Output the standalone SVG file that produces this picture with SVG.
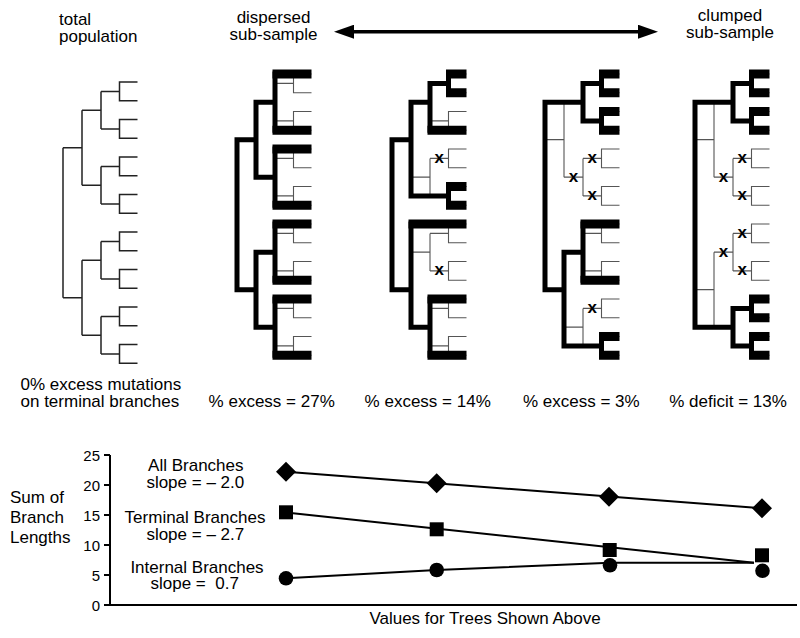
<svg xmlns="http://www.w3.org/2000/svg" xmlns:xlink="http://www.w3.org/1999/xlink" width="800" height="638" viewBox="0 0 800 638">
<style>
.t{font-family:"Liberation Sans",Arial,Helvetica,sans-serif;font-size:17px;fill:#000}
.tk{font-family:"Liberation Sans",Arial,Helvetica,sans-serif;font-size:15px;fill:#000;text-anchor:end}
.c{text-anchor:middle}
.thin{fill:none;stroke:#555;stroke-width:1.1}
.dark{fill:none;stroke:#222;stroke-width:1.5}
.thick{fill:none;stroke:#000;stroke-width:5;stroke-linecap:square}
.bar{fill:#000}
.x{font-family:"Liberation Sans",Arial,sans-serif;font-size:17px;font-weight:bold;text-anchor:middle;fill:#000}
.ax{fill:none;stroke:#000;stroke-width:2}
.ln{fill:none;stroke:#000;stroke-width:2}
.mk{fill:#000}
</style>
<defs>
<path id="full" d="M74.5 74H56.5V92.75H74.5M38 83.375H56.5M74.5 111.5H56.5V130.25H74.5M38 120.875H56.5M74.5 149H56.5V167.75H74.5M38 158.375H56.5M74.5 186.5H56.5V205.25H74.5M38 195.875H56.5M74.5 224H56.5V242.75H74.5M38 233.375H56.5M74.5 261.5H56.5V280.25H74.5M38 270.875H56.5M74.5 299H56.5V317.75H74.5M38 308.375H56.5M74.5 336.5H56.5V355.25H74.5M38 345.875H56.5M38 83.375V120.875M19 102.125H38M38 158.375V195.875M19 177.125H38M38 233.375V270.875M19 252.125H38M38 308.375V345.875M19 327.125H38M19 102.125V177.125M0 139.625H19M19 252.125V327.125M0 289.625H19M0 139.625V289.625"/>
<marker id="ah" markerUnits="userSpaceOnUse" markerWidth="20" markerHeight="14" viewBox="0 0 20 14" refX="10" refY="7" orient="auto-start-reverse"><path d="M0,0L20,7L0,14Z" fill="#000"/></marker>
<path id="dia" d="M0,-10L10,0L0,10L-10,0Z"/>
<rect id="sq" x="-7" y="-7" width="14" height="14"/>
<circle id="dot" r="7.3"/>
</defs>

<g id="label-total"><text class="t" x="59" y="25">total</text><text class="t" x="59" y="42">population</text></g>
<g id="label-dispersed"><text class="t c" x="273.5" y="22.5">dispersed</text><text class="t c" x="273.5" y="39.5">sub-sample</text></g>
<g id="label-clumped"><text class="t c" x="730" y="21">clumped</text><text class="t c" x="730" y="38">sub-sample</text></g>

<g id="connectors">
<line x1="344" y1="31.7" x2="648" y2="31.7" stroke="#000" stroke-width="3.5" marker-start="url(#ah)" marker-end="url(#ah)"/>
</g>

<g id="tree-total"><use xlink:href="#full" href="#full" class="dark" x="63" y="8"/></g>

<g id="tree-dispersed" transform="translate(237,0)">
<use xlink:href="#full" href="#full" class="thin"/>
<path class="thick" d="M0 139.625V289.625M0 139.625H19M0 289.625H19M19 102.125V177.125M19 252.125V327.125M19 102.125H38M19 177.125H38M19 252.125H38M19 327.125H38M38 74V130.25M38 149V205.25M38 224V280.25M38 299V355.25"/>
<g class="bar"><rect x="35.5" y="69.5" width="39" height="9"/><rect x="35.5" y="125.75" width="39" height="9"/><rect x="35.5" y="144.5" width="39" height="9"/><rect x="35.5" y="200.75" width="39" height="9"/><rect x="35.5" y="219.5" width="39" height="9"/><rect x="35.5" y="275.75" width="39" height="9"/><rect x="35.5" y="294.5" width="39" height="9"/><rect x="35.5" y="350.75" width="39" height="9"/></g>
</g>

<g id="tree-14" transform="translate(392,0)">
<use xlink:href="#full" href="#full" class="thin"/>
<path class="thick" d="M0 139.625V289.625M0 139.625H19M0 289.625H19M19 102.125V195.875M19 102.125H38M38 83.375V130.25M38 83.375H56.5M56.5 74V92.75M19 195.875H56.5M56.5 186.5V205.25M19 224V327.125M19 327.125H38M38 299V355.25"/>
<g class="bar"><rect x="54" y="69.5" width="20.5" height="9"/><rect x="54" y="88.25" width="20.5" height="9"/><rect x="35.5" y="125.75" width="39" height="9"/><rect x="54" y="182" width="20.5" height="9"/><rect x="54" y="200.75" width="20.5" height="9"/><rect x="16.5" y="219.5" width="58" height="9"/><rect x="35.5" y="294.5" width="39" height="9"/><rect x="35.5" y="350.75" width="39" height="9"/></g>
<text class="x" x="47.25" y="162.9">x</text><text class="x" x="47.25" y="275.4">x</text>
</g>

<g id="tree-3" transform="translate(545,0)">
<use xlink:href="#full" href="#full" class="thin"/>
<path class="thick" d="M0 102.125V289.625M0 102.125H38M38 83.375V120.875M38 83.375H56.5M38 120.875H56.5M56.5 74V92.75M56.5 111.5V130.25M0 289.625H19M19 252.125V345.875M19 252.125H38M38 224V280.25M19 345.875H56.5M56.5 336.5V355.25"/>
<g class="bar"><rect x="54" y="69.5" width="20.5" height="9"/><rect x="54" y="88.25" width="20.5" height="9"/><rect x="54" y="107" width="20.5" height="9"/><rect x="54" y="125.75" width="20.5" height="9"/><rect x="35.5" y="219.5" width="39" height="9"/><rect x="35.5" y="275.75" width="39" height="9"/><rect x="54" y="332" width="20.5" height="9"/><rect x="54" y="350.75" width="20.5" height="9"/></g>
<text class="x" x="28.5" y="181.6">x</text><text class="x" x="47.25" y="162.9">x</text><text class="x" x="47.25" y="200.4">x</text><text class="x" x="47.25" y="312.9">x</text>
</g>

<g id="tree-clumped" transform="translate(695,0)">
<use xlink:href="#full" href="#full" class="thin"/>
<path class="thick" d="M0 102.125V327.125M0 102.125H38M0 327.125H38M38 83.375V120.875M38 308.375V345.875M38 83.375H56.5M38 120.875H56.5M38 308.375H56.5M38 345.875H56.5M56.5 74V92.75M56.5 111.5V130.25M56.5 299V317.75M56.5 336.5V355.25"/>
<g class="bar"><rect x="54" y="69.5" width="20.5" height="9"/><rect x="54" y="88.25" width="20.5" height="9"/><rect x="54" y="107" width="20.5" height="9"/><rect x="54" y="125.75" width="20.5" height="9"/><rect x="54" y="294.5" width="20.5" height="9"/><rect x="54" y="313.25" width="20.5" height="9"/><rect x="54" y="332" width="20.5" height="9"/><rect x="54" y="350.75" width="20.5" height="9"/></g>
<text class="x" x="28.5" y="181.6">x</text><text class="x" x="47.25" y="162.9">x</text><text class="x" x="47.25" y="200.4">x</text><text class="x" x="28.5" y="256.6">x</text><text class="x" x="47.25" y="237.9">x</text><text class="x" x="47.25" y="275.4">x</text>
</g>

<g id="tree-labels">
<text class="t" x="20.5" y="390">0% excess mutations</text>
<text class="t" x="20.5" y="407">on terminal branches</text>
<text class="t c" x="271.7" y="407">% excess = 27%</text>
<text class="t c" x="427.7" y="407">% excess = 14%</text>
<text class="t c" x="581.3" y="407">% excess = 3%</text>
<text class="t c" x="728" y="407">% deficit = 13%</text>
</g>

<g id="chart">
<g id="axes">
<path class="ax" d="M110 455V605H797M104 455H110M104 485H110M104 515H110M104 545H110M104 575H110M104 605H110"/>
<text class="tk" x="100" y="460.5">25</text>
<text class="tk" x="100" y="490.5">20</text>
<text class="tk" x="100" y="520.5">15</text>
<text class="tk" x="100" y="550.5">10</text>
<text class="tk" x="100" y="580.5">5</text>
<text class="tk" x="100" y="610.5">0</text>
<text class="t" x="10" y="503">Sum of</text>
<text class="t" x="10" y="523">Branch</text>
<text class="t" x="10" y="543">Lengths</text>
<text class="t c" x="485" y="624">Values for Trees Shown Above</text>
</g>
<g id="series-lines">
<path class="ln" d="M286 471.7L762 508.3"/>
<path class="ln" d="M286 512.5L754 562.7"/>
<path class="ln" d="M286 578.3L436.7 570L610 562.7L754 562.7"/>
</g>
<g id="series-all" class="mk">
<use xlink:href="#dia" href="#dia" x="286" y="471.7"/><use xlink:href="#dia" href="#dia" x="436.7" y="483.3"/><use xlink:href="#dia" href="#dia" x="609" y="496.7"/><use xlink:href="#dia" href="#dia" x="762" y="508.3"/>
<text class="t c" x="195.8" y="471">All Branches</text>
<text class="t c" x="195.3" y="487.5">slope = – 2.0</text>
</g>
<g id="series-terminal" class="mk">
<use xlink:href="#sq" href="#sq" x="286" y="512.3"/><use xlink:href="#sq" href="#sq" x="436.7" y="529.3"/><use xlink:href="#sq" href="#sq" x="609.7" y="550"/><use xlink:href="#sq" href="#sq" x="762" y="555.3"/>
<text class="t c" x="195" y="523">Terminal Branches</text>
<text class="t c" x="195.3" y="539.5">slope = – 2.7</text>
</g>
<g id="series-internal" class="mk">
<use xlink:href="#dot" href="#dot" x="286" y="578.3"/><use xlink:href="#dot" href="#dot" x="436.7" y="570"/><use xlink:href="#dot" href="#dot" x="610" y="565.3"/><use xlink:href="#dot" href="#dot" x="762.5" y="570.8"/>
<text class="t c" x="197" y="572.5">Internal Branches</text>
<text class="t c" x="194.7" y="589" xml:space="preserve">slope =  0.7</text>
</g>
</g>
</svg>
